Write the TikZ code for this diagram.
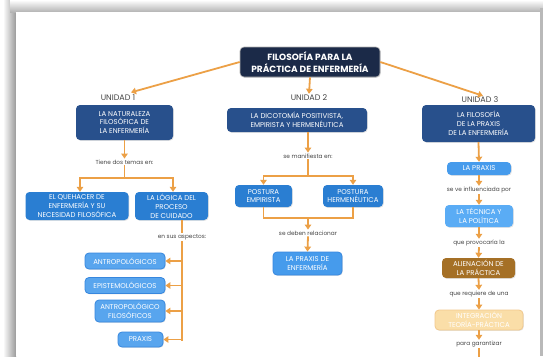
\documentclass[tikz,border=0pt]{standalone}
\usepackage{fontspec}
\setmainfont{Poppins}
\usetikzlibrary{arrows.meta,shadows}
\definecolor{lineor}{RGB}{236,160,70}
\definecolor{navy}{RGB}{27,42,72}
\definecolor{unitblue}{RGB}{40,80,140}
\definecolor{midblue}{RGB}{42,126,210}
\definecolor{aspblue}{RGB}{88,165,238}
\definecolor{aspdraw}{RGB}{55,135,222}
\definecolor{prxblue}{RGB}{70,155,236}
\definecolor{tecblue}{RGB}{90,172,245}
\definecolor{brown}{RGB}{165,112,38}
\definecolor{palefill}{RGB}{250,222,168}
\definecolor{paledraw}{RGB}{242,200,140}
\definecolor{lbltext}{RGB}{70,70,70}
\begin{document}
\begin{tikzpicture}[x=1pt,y=-1pt,
  ln/.style={draw=lineor,line width=1.8pt},
  arr/.style={ln,-{Triangle[width=6.5pt,length=5pt]}},
  bx/.style={rounded corners=4pt,align=center,text=white,inner sep=0pt,
    font=\fontsize{7}{8.8}\selectfont,drop shadow={opacity=0.2,shadow xshift=0.8pt,shadow yshift=-0.8pt}},
  titlebx/.style={bx,fill=navy,draw=gray!60,line width=0.6pt,font=\bfseries\fontsize{9}{11.5}\selectfont},
  unitbx/.style={bx,fill=unitblue},
  midbx/.style={bx,fill=midblue},
  aspbx/.style={bx,fill=aspblue,draw=aspdraw,line width=0.8pt},
  unidad/.style={text=lbltext,font=\fontsize{8}{9}\selectfont,inner sep=1pt},
  lbl/.style={fill=white,text=lbltext,font=\fontsize{5.8}{7}\selectfont,inner sep=1pt}
]
\useasboundingbox (0,0) rectangle (543,356);
% page shadow
\fill[white] (0,0) rectangle (543,356);
\shade[left color=white,right color=gray!80] (3,0) rectangle (16,356);
\shade[top color=white,bottom color=gray!60] (10,0) rectangle (543,12);
\fill[gray!55] (540,8) rectangle (543,356);
\fill[white] (16,12) rectangle (540,356);

% title and units
\node[titlebx,minimum width=140pt,minimum height=30pt] (title) at (310,62) {FILOSOFÍA PARA LA\\PRÁCTICA DE ENFERMERÍA};
\node[unidad] (l1) at (118,98) {UNIDAD 1};
\node[unidad] (l2) at (309,98) {UNIDAD 2};
\node[unidad] (l3) at (480,100) {UNIDAD 3};
\draw[arr] (title.west) -- ([xshift=13pt,yshift=1.5pt]l1.north);
\draw[arr] (title.south) -- (l2.north);
\draw[arr] (title.east) -- ([xshift=3pt]l3.north);

\node[unitbx,minimum width=97pt,minimum height=35pt] (u1) at (124.5,122.5) {LA NATURALEZA\\FILOSÓFICA DE\\LA ENFERMERÍA};
\node[unitbx,minimum width=140pt,minimum height=24pt] (u2) at (297,120) {LA DICOTOMÍA POSITIVISTA,\\EMPIRISTA Y HERMENÉUTICA};
\node[unitbx,minimum width=113pt,minimum height=37pt] (u3) at (478.5,123.5) {LA FILOSOFÍA\\DE LA PRAXIS\\DE LA ENFERMERÍA};

% unit 1
\node[lbl] (t1a) at (124.5,162) {Tiene dos temas en:};
\node[midbx,minimum width=103pt,minimum height=28pt] (b1a) at (77,206) {EL QUEHACER DE\\ENFERMERÍA Y SU\\NECESIDAD FILOSÓFICA};
\node[midbx,minimum width=73pt,minimum height=28pt] (b1b) at (171.5,206) {LA LÓGICA DEL\\PROCESO\\DE CUIDADO};
\coordinate (j1) at (124.5,178);
\draw[arr] (u1.south) -- (t1a.north);
\draw[ln] (t1a.south) -- (j1);
\draw[arr] (j1) -| ([xshift=3pt]b1a.north);
\draw[arr] (j1) -| ([xshift=1.5pt]b1b.north);

\node[aspbx,minimum width=80pt,minimum height=16pt] (asp1) at (125,261) {ANTROPOLÓGICOS};
\node[aspbx,minimum width=80pt,minimum height=16pt] (asp2) at (125,285.5) {EPISTEMOLÓGICOS};
\node[aspbx,minimum width=70pt,minimum height=22pt] (asp3) at (130,311) {ANTROPOLÓGICO\\FILOSÓFICOS};
\node[aspbx,minimum width=45pt,minimum height=15pt] (asp4) at (140.5,339.5) {PRAXIS};
\coordinate (a0) at ([xshift=10.5pt]b1b.south);
\coordinate (a1) at (182,340.5);
\draw[ln] (a0) -- (a1);
\node[lbl] (t1b) at (182,237) {en sus aspectos:};
\foreach \n in {asp1,asp2,asp3,asp4}{
  \draw[arr] (\n.east -| a0) -- (\n.east);
}

% unit 2
\node[lbl] (t2a) at (308,156) {se manifiesta en:};
\node[midbx,minimum width=57pt,minimum height=22pt] (pe) at (263.5,196) {POSTURA\\EMPIRISTA};
\node[midbx,minimum width=60pt,minimum height=22pt] (ph) at (353,196) {POSTURA\\HERMENÉUTICA};
\draw[arr] ([xshift=11pt]u2.south) -- (t2a.north);
\coordinate (j2a) at (308,176);
\draw[ln] (t2a.south) -- (j2a);
\draw[arr] (j2a) -| (pe.north);
\draw[arr] (j2a) -| (ph.north);
\coordinate (j2) at (308,218);
\draw[ln] (pe.south) |- (j2) -| (ph.south);
\node[lbl] (t2b) at (308,233) {se deben relacionar};
\node[bx,fill=prxblue,draw=aspdraw,line width=0.8pt,minimum width=69pt,minimum height=23pt] (pr2) at (307.5,263.5) {LA PRAXIS DE\\ENFERMERÍA};
\draw[arr] (j2) -- (t2b.north);
\draw[arr] (t2b.south) -- (pr2.north);

% unit 3
\node[bx,fill=prxblue,minimum width=64pt,minimum height=13pt] (p3) at (479,168.5) {LA PRAXIS};
\node[lbl] (t3a) at (479,190) {se ve influenciada por};
\node[bx,fill=tecblue,minimum width=68pt,minimum height=22pt] (tp) at (479,216) {LA TÉCNICA Y\\LA POLÍTICA};
\node[lbl] (t3b) at (479,243) {que provocaría la};
\node[bx,fill=brown,minimum width=73pt,minimum height=20pt] (al) at (478.5,268) {ALIENACIÓN DE\\LA PRÁCTICA};
\node[lbl] (t3c) at (479,294) {que requiere de una};
\node[bx,fill=palefill,draw=paledraw,line width=0.8pt,minimum width=88pt,minimum height=20pt,text=white] (it) at (479,320) {INTEGRACIÓN\\TEORÍA-PRÁCTICA};
\node[lbl] (t3d) at (479,344) {para garantizar};
\coordinate (e3) at (479,358);
\draw[arr] (u3.south) -- (p3.north);
\draw[arr] (p3.south) -- (t3a.north);
\draw[arr] (t3a.south) -- (tp.north);
\draw[arr] (tp.south) -- (t3b.north);
\draw[arr] (t3b.south) -- (al.north);
\draw[arr] (al.south) -- (t3c.north);
\draw[arr] (t3c.south) -- (it.north);
\draw[arr] (it.south) -- (t3d.north);
\draw[ln] (t3d.south) -- (e3);
\end{tikzpicture}
\end{document}
